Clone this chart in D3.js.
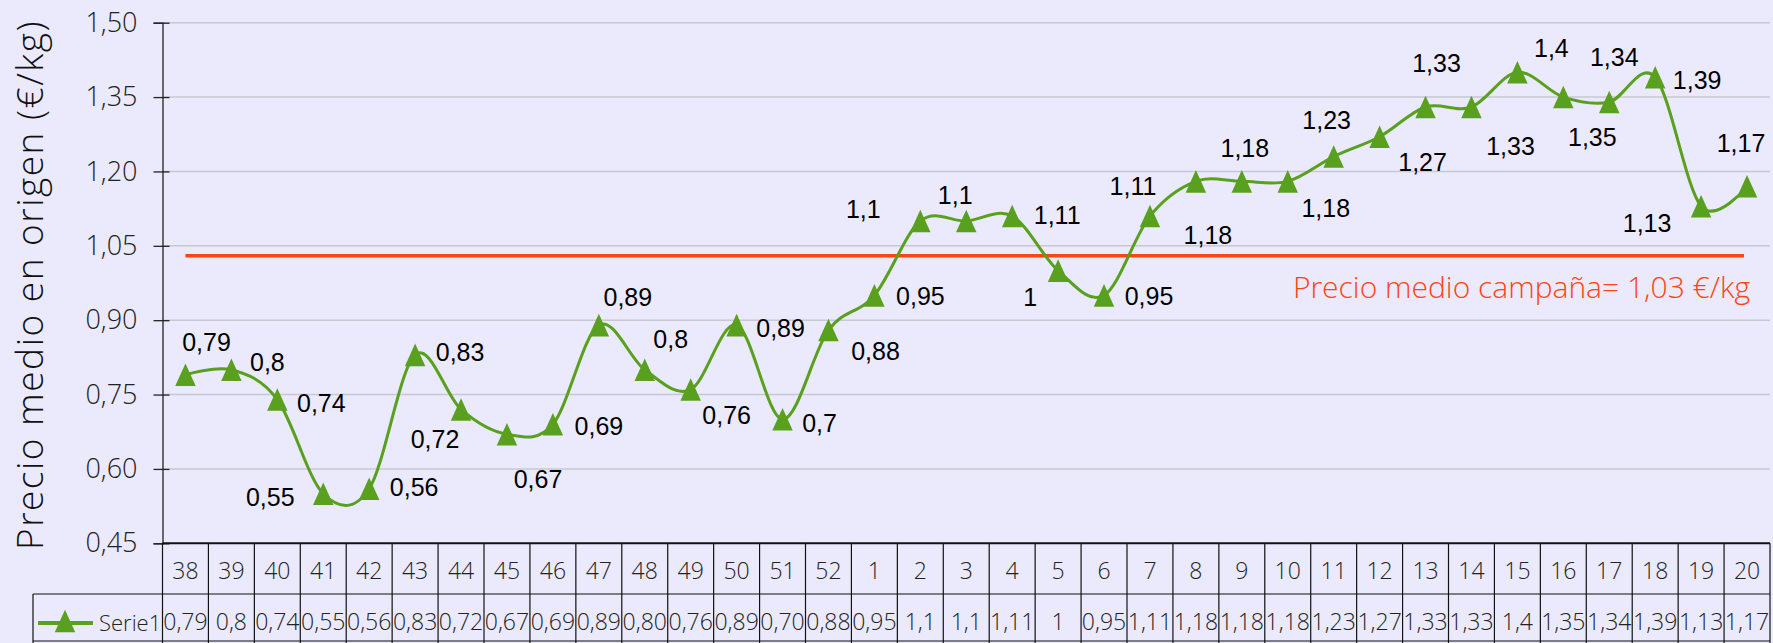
<!DOCTYPE html>
<html>
<head>
<meta charset="utf-8">
<script src="https://cdn.jsdelivr.net/npm/d3@7"></script>
<style>
  body { margin: 0; background: #eaeafc; }
  svg { display: block; }
  .light { font-family: "Open Sans", "Lato", sans-serif; font-weight: 300; }
  .lbl { font-family: "Liberation Sans", Arial, sans-serif; }
</style>
</head>
<body>
<svg width="1773" height="643"></svg>
<script>
// semanas de la campaña
var weeks = ["38","39","40","41","42","43","44","45","46","47","48","49","50","51","52",
             "1","2","3","4","5","6","7","8","9","10","11","12","13","14","15","16","17","18","19","20"];
var prices = [0.79,0.80,0.74,0.55,0.56,0.83,0.72,0.67,0.69,0.89,0.80,0.76,0.89,0.70,0.88,
              0.95,1.10,1.10,1.11,1.00,0.95,1.11,1.18,1.18,1.18,1.23,1.27,1.33,1.33,1.40,1.35,1.34,1.39,1.13,1.17];
// texto tal cual aparece en la tabla de datos
var tableText = ["0,79","0,8","0,74","0,55","0,56","0,83","0,72","0,67","0,69","0,89","0,80","0,76","0,89","0,70","0,88",
                 "0,95","1,1","1,1","1,11","1","0,95","1,11","1,18","1,18","1,18","1,23","1,27","1,33","1,33","1,4","1,35","1,34","1,39","1,13","1,17"];
var yTicks = [0.45,0.60,0.75,0.90,1.05,1.20,1.35,1.50];
var avgPrice = 1.03;
var seriesName = "Serie1";

// desplazamiento de cada etiqueta respecto a su punto (px)
var labelOffsets = [[21,-33],[36,-8],[44,3],[-53,3],[45,-2],[45,-3],[-26,30],[31,45],[46,2],[29,-28],
                    [26,-31],[36,25],[44,3],[37,4],[47,21],[46,1],[-57,-12],[-11,-26],[45,-1],[-28,26],
                    [45,1],[-17,-30],[12,54],[3,-33],[38,27],[-7,-37],[43,25],[11,-44],[39,39],[34,-24],
                    [29,40],[5,-45],[42,3],[-54,17],[-6,-43]];

var svg = d3.select("svg");
var green = "#58a01e", red = "#ff4412";
var fmt = function(v) { return v.toFixed(2).replace(".", ","); };

var plotL = 162.5, plotR = 1770, plotT = 22.7, plotB = 543.3;
var rowMid = 594, rowBot = 641;

var x = d3.scaleBand().domain(weeks).range([plotL, plotR]).padding(0);
var y = d3.scaleLinear().domain([0.45, 1.50]).range([plotB, plotT]);
var cx = function(i) { return x(weeks[i]) + x.bandwidth() / 2; };

// rejilla
svg.append("g").selectAll("line")
  .data(yTicks.slice(1))
  .enter().append("line")
  .attr("x1", plotL).attr("x2", plotR)
  .attr("y1", function(d) { return y(d); }).attr("y2", function(d) { return y(d); })
  .attr("stroke", "#c8c8d0").attr("stroke-width", 1.5);

// eje y
var yAxis = svg.append("g").attr("transform", "translate(" + plotL + ",0)")
  .call(d3.axisLeft(y).tickValues(yTicks).tickFormat(fmt).tickSize(9).tickPadding(16));
yAxis.select(".domain").attr("stroke", "#222").attr("stroke-width", 1.3);
yAxis.selectAll(".tick line").attr("x2", -9).attr("x1", 7).attr("stroke", "#222").attr("stroke-width", 1.3);
yAxis.selectAll(".tick text").attr("class", "light").style("font-size", "27px").attr("fill", "#222");

svg.append("text")
  .attr("class", "light")
  .attr("transform", "translate(43," + 285 + ") rotate(-90)")
  .attr("text-anchor", "middle")
  .style("font-size", "37px")
  .style("letter-spacing", "1.5px")
  .attr("fill", "#111")
  .text("Precio medio en origen (€/kg)");

// precio medio de campaña
svg.append("line")
  .attr("x1", cx(0)).attr("x2", cx(weeks.length - 1) - 3)
  .attr("y1", y(avgPrice)).attr("y2", y(avgPrice))
  .attr("stroke", red).attr("stroke-width", 3.5);

svg.append("text")
  .attr("class", "light")
  .attr("x", 1750).attr("y", 298)
  .attr("text-anchor", "end")
  .style("font-size", "30px")
  .attr("fill", red)
  .text("Precio medio campaña= " + fmt(avgPrice) + " €/kg");

// serie
var line = d3.line()
  .x(function(d, i) { return cx(i); })
  .y(function(d) { return y(d); })
  .curve(d3.curveCardinal.tension(0));

svg.append("path")
  .datum(prices)
  .attr("fill", "none")
  .attr("stroke", green)
  .attr("stroke-width", 3)
  .attr("d", line);

// triángulo de Excel: algo más alto que ancho
var excelTriangle = {
  draw: function(ctx, size) {
    var w = Math.sqrt(size), h = w * 1.1;
    ctx.moveTo(0, -h / 2);
    ctx.lineTo(w / 2, h / 2);
    ctx.lineTo(-w / 2, h / 2);
    ctx.closePath();
  }
};
var tri = d3.symbol().type(excelTriangle).size(420);

svg.append("g").selectAll("path")
  .data(prices)
  .enter().append("path")
  .attr("d", tri)
  .attr("transform", function(d, i) { return "translate(" + cx(i) + "," + y(d) + ")"; })
  .attr("fill", green);

svg.append("g").selectAll("text")
  .data(prices)
  .enter().append("text")
  .attr("class", "lbl")
  .attr("x", function(d, i) { return cx(i) + labelOffsets[i][0]; })
  .attr("y", function(d, i) { return y(d) + labelOffsets[i][1]; })
  .attr("text-anchor", "middle")
  .attr("dominant-baseline", "central")
  .style("font-size", "25px")
  .attr("fill", "#000")
  .text(function(d, i) { return tableText[i].replace(/^(\d,\d)0$/, "$1"); });

// tabla de datos
var table = svg.append("g").attr("stroke", "#111").attr("stroke-width", 1.2);
table.append("line").attr("x1", plotL).attr("x2", plotR).attr("y1", plotB).attr("y2", plotB).attr("stroke-width", 2);
table.append("line").attr("x1", 33).attr("x2", plotR).attr("y1", rowMid).attr("y2", rowMid);
table.append("line").attr("x1", 33).attr("x2", plotR).attr("y1", rowBot).attr("y2", rowBot);
table.append("line").attr("x1", 33).attr("x2", 33).attr("y1", rowMid).attr("y2", 643);
table.selectAll(".v")
  .data(weeks.concat(["end"]))
  .enter().append("line")
  .attr("class", "v")
  .attr("x1", function(d, i) { return plotL + i * x.bandwidth(); })
  .attr("x2", function(d, i) { return plotL + i * x.bandwidth(); })
  .attr("y1", plotB).attr("y2", 643);

svg.append("g").selectAll("text")
  .data(weeks)
  .enter().append("text")
  .attr("class", "light")
  .attr("x", function(d, i) { return cx(i); })
  .attr("y", (plotB + rowMid) / 2 + 1)
  .attr("text-anchor", "middle")
  .attr("dominant-baseline", "central")
  .style("font-size", "23px")
  .attr("fill", "#222")
  .text(function(d) { return d; });

svg.append("g").selectAll("text")
  .data(tableText)
  .enter().append("text")
  .attr("class", "light")
  .attr("x", function(d, i) { return cx(i); })
  .attr("y", (rowMid + rowBot) / 2 + 3)
  .attr("text-anchor", "middle")
  .attr("dominant-baseline", "central")
  .style("font-size", "23px")
  .attr("fill", "#222")
  .text(function(d) { return d; });

// leyenda
svg.append("line").attr("x1", 38).attr("x2", 93).attr("y1", 623).attr("y2", 623)
  .attr("stroke", green).attr("stroke-width", 4);
svg.append("path").attr("d", tri).attr("transform", "translate(65,621)").attr("fill", green);
svg.append("text")
  .attr("class", "light")
  .attr("x", 99).attr("y", 622)
  .attr("dominant-baseline", "central")
  .style("font-size", "22px")
  .attr("fill", "#222")
  .text(seriesName);
</script>
</body>
</html>
